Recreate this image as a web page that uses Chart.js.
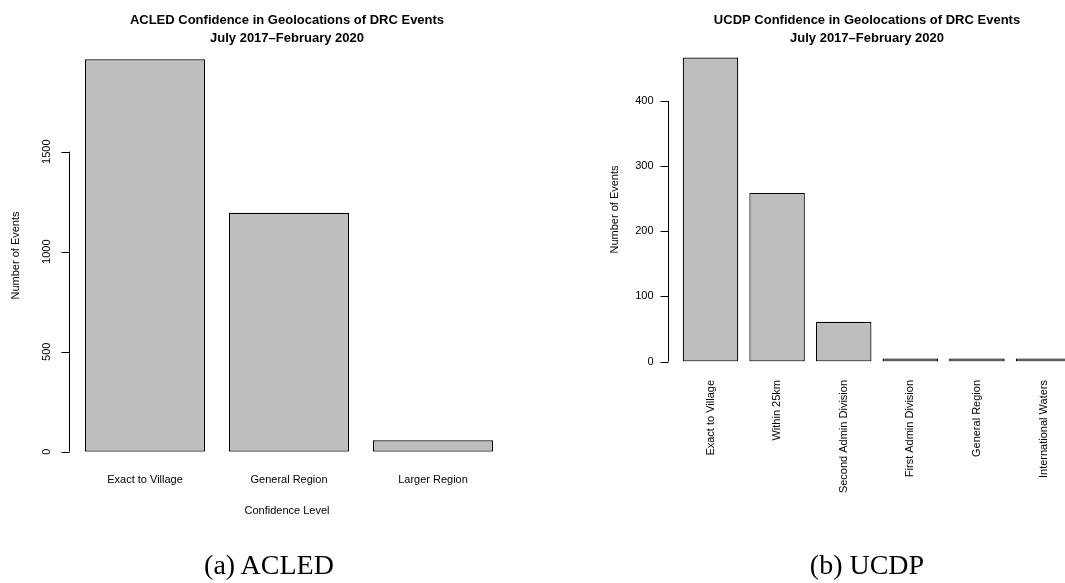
<!DOCTYPE html>
<html>
<head>
<meta charset="utf-8">
<script src="https://cdn.jsdelivr.net/npm/chart.js@4.4.1/dist/chart.umd.min.js"></script>
<style>
  html, body { margin: 0; padding: 0; background: #fff; overflow: hidden; width: 1065px; height: 583px; }
  canvas { position: absolute; top: 0; }
  #acledChart { left: 0; }
  #ucdpChart { left: 530px; }
  .caption {
    position: absolute; top: 551px; transform: translateX(-50%);
    font-family: "Liberation Serif", "Times New Roman", serif; font-size: 28px; line-height: 28px;
    color: #000; white-space: nowrap;
  }
</style>
</head>
<body>
<canvas id="acledChart" width="530" height="583"></canvas>
<canvas id="ucdpChart" width="560" height="583"></canvas>
<div class="caption" style="left:269px">(a) ACLED</div>
<div class="caption" style="left:867px">(b) UCDP</div>
<script>
const acledCategories = ['Exact to Village', 'General Region', 'Larger Region'];
const acledCounts = [1962, 1195, 57];
const acledTicks = [0, 500, 1000, 1500];

const ucdpCategories = ['Exact to Village', 'Within 25km', 'Second Admin Division',
  'First Admin Division', 'General Region', 'International Waters'];
const ucdpCounts = [467, 259, 61, 3, 2, 2];
const ucdpTicks = [0, 100, 200, 300, 400];

const titleLines = ['Confidence in Geolocations of DRC Events', 'July 2017\u2013February 2020'];
const SANS = '"Liberation Sans", Arial, Helvetica, sans-serif';

// base-R style axes: short axis line, outward ticks, plain labels
const rAxes = {
  id: 'rAxes',
  afterDraw(chart, args, o) {
    const { ctx, chartArea, scales: { x, y } } = chart;
    const axisX = Math.round(chartArea.left - o.axisGap) + 0.5;
    const zeroY = y.getPixelForValue(0);
    ctx.save();
    ctx.strokeStyle = '#000';
    ctx.fillStyle = '#000';
    ctx.lineWidth = 1;

    ctx.beginPath();
    ctx.moveTo(axisX, y.getPixelForValue(o.ticks[0]));
    ctx.lineTo(axisX, y.getPixelForValue(o.ticks[o.ticks.length - 1]));
    o.ticks.forEach(t => {
      const py = Math.round(y.getPixelForValue(t)) + 0.5;
      ctx.moveTo(axisX, py);
      ctx.lineTo(axisX - 8, py);
    });
    ctx.stroke();

    ctx.font = '11px ' + SANS;
    o.ticks.forEach(t => {
      const py = y.getPixelForValue(t);
      if (o.rotateY) {
        ctx.save();
        ctx.translate(axisX - 23, py);
        ctx.rotate(-Math.PI / 2);
        ctx.textAlign = 'center';
        ctx.textBaseline = 'middle';
        ctx.fillText(String(t), 0, 0);
        ctx.restore();
      } else {
        ctx.textAlign = 'right';
        ctx.textBaseline = 'middle';
        ctx.fillText(String(t), axisX - 15, py);
      }
    });

    chart.data.labels.forEach((lab, i) => {
      const px = x.getPixelForValue(i);
      if (o.rotateX) {
        ctx.save();
        ctx.translate(px, zeroY + o.xLabelGap);
        ctx.rotate(-Math.PI / 2);
        ctx.textAlign = 'right';
        ctx.textBaseline = 'middle';
        ctx.fillText(lab, 0, 0);
        ctx.restore();
      } else {
        ctx.textAlign = 'center';
        ctx.textBaseline = 'alphabetic';
        ctx.fillText(lab, px, zeroY + o.xLabelGap);
      }
    });

    // axis titles
    ctx.save();
    ctx.translate(o.yTitleX, o.yTitleY);
    ctx.rotate(-Math.PI / 2);
    ctx.textAlign = 'center';
    ctx.textBaseline = 'alphabetic';
    ctx.fillText('Number of Events', 0, 4);
    ctx.restore();
    if (o.xTitle) {
      ctx.textAlign = 'center';
      ctx.textBaseline = 'alphabetic';
      ctx.fillText(o.xTitle, o.titleX, 514);
    }

    // main title
    ctx.font = 'bold 13px ' + SANS;
    ctx.textAlign = 'center';
    ctx.textBaseline = 'alphabetic';
    ctx.fillText(o.source + ' ' + titleLines[0], o.titleX, 24);
    ctx.fillText(titleLines[1], o.titleX, 42);
    ctx.restore();
  }
};

function makeChart(id, labels, values, yMax, padding, axisOpts) {
  return new Chart(document.getElementById(id), {
    type: 'bar',
    data: {
      labels: labels,
      datasets: [{
        data: values,
        backgroundColor: '#bebebe',
        borderColor: '#000',
        borderWidth: 1.2,
        borderSkipped: false,
        minBarLength: 3,
        categoryPercentage: 1,
        barPercentage: 1 / 1.2
      }]
    },
    options: {
      responsive: false,
      animation: false,
      events: [],
      layout: { padding: padding },
      plugins: {
        legend: { display: false },
        tooltip: { enabled: false },
        rAxes: axisOpts
      },
      scales: {
        x: { display: false },
        y: { display: false, min: 0, max: yMax }
      }
    },
    plugins: [rAxes]
  });
}

makeChart('acledChart', acledCategories, acledCounts, 2000,
  { left: 73, right: 25, top: 51.7, bottom: 131.3 },
  { source: 'ACLED', ticks: acledTicks, axisGap: 4, rotateY: true, rotateX: false,
    xLabelGap: 31, xTitle: 'Confidence Level', titleX: 287, yTitleX: 15, yTitleY: 255.5 });

makeChart('ucdpChart', ucdpCategories, ucdpCounts, 500,
  { left: 147.2, right: 13.2, top: 36, bottom: 221.5 },
  { source: 'UCDP', ticks: ucdpTicks, axisGap: 9, rotateY: false, rotateX: true,
    xLabelGap: 18.5, xTitle: null, titleX: 337, yTitleX: 84, yTitleY: 209.5 });
</script>
</body>
</html>
